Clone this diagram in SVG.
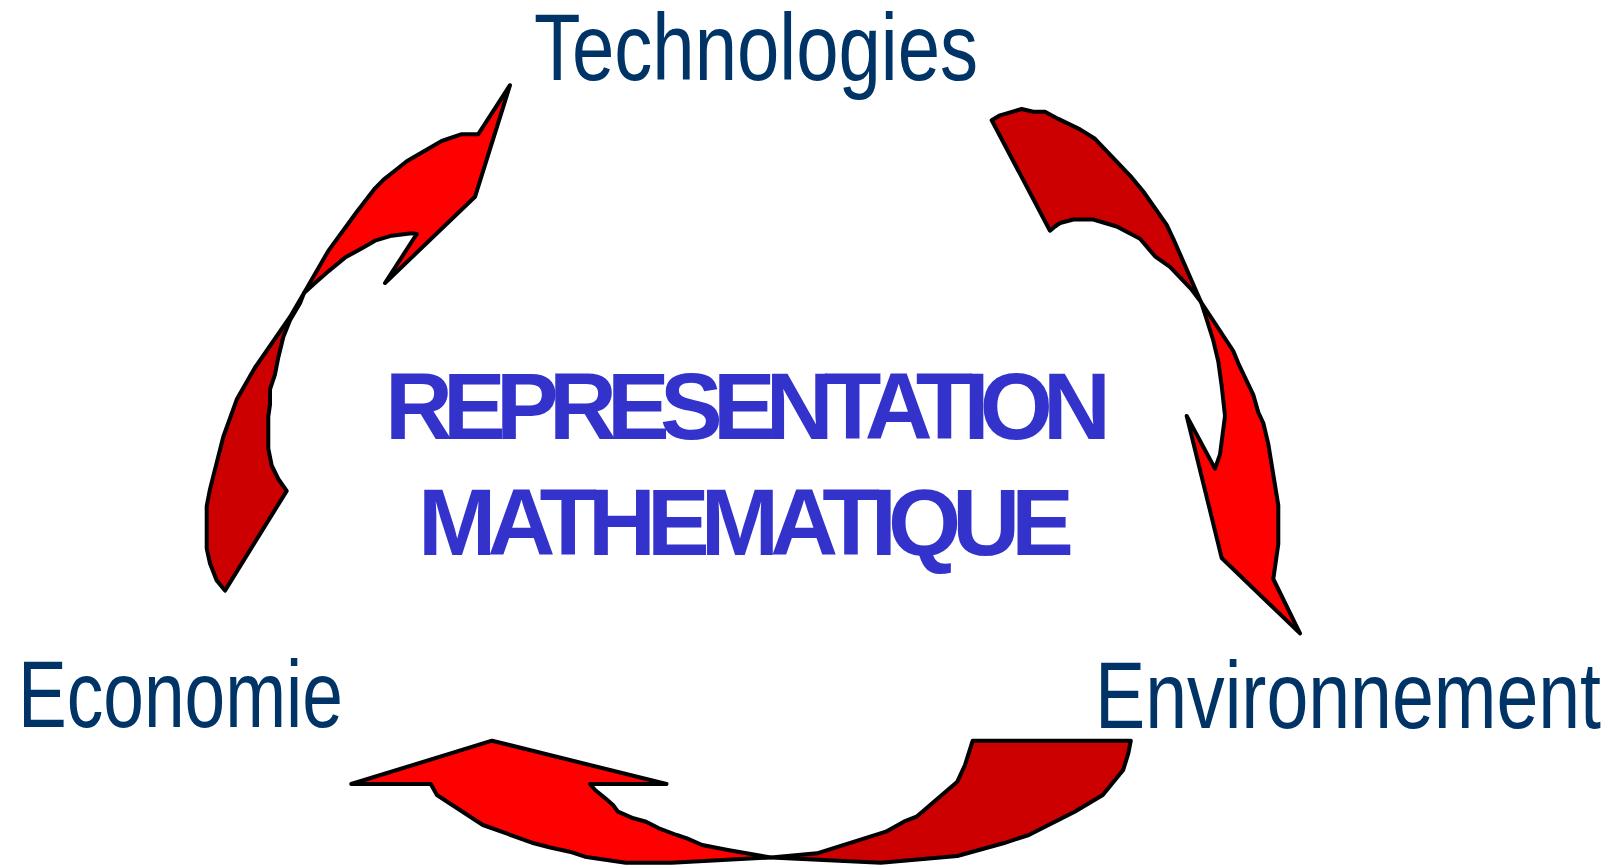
<svg xmlns="http://www.w3.org/2000/svg" width="1616" height="866" viewBox="0 0 1616 866">
<style>
.lbl{font-family:"Liberation Sans",Arial,sans-serif;fill:#003366;font-size:94px}
.ctr{font-family:"Liberation Sans",Arial,sans-serif;fill:#3333CC;font-size:94px;font-weight:bold}
.bright{fill:#FF0000;stroke:#000;stroke-width:4;stroke-linejoin:round}
.dark{fill:#CC0000;stroke:#000;stroke-width:4;stroke-linejoin:round}
</style>
<rect width="1616" height="866" fill="#fff"/>
<g id="connectors">
<g id="arrow-left">
<polygon class="dark" points="304,293 290,317 255,367.5 236.7,399.6 223.3,436.8 210,489.2 206.7,506.1 206.7,548.4 210,563.6 216.7,580.5 225,590.6 286.7,490.9 278.3,479 271.7,465.5 268.3,448.6 268.3,416.5 270,404.7 270,389.5 275,374.3 278.3,357.4 283.3,337.1 290,320.2 300,303.3"/>
<polygon class="bright" points="510,85.2 478.3,134.2 461.7,134.2 441.7,141 406.7,161.3 398.3,168 383.3,179.9 375,188.3 356.7,212 328.3,250.9 304,293 315,283 326.7,272.8 345,257.6 363.3,247.5 375,240.7 391.7,235.7 411.7,233.3 416.7,234 385,283 475,196.8"/>
</g>
<g id="arrow-right">
<polygon class="dark" points="991.7,120.3 1000,115.3 1021.7,109 1033.3,111.8 1045,111.8 1058.3,118.9 1080,129.4 1095,138.8 1111.7,156.4 1131.7,177.4 1143.3,191.5 1166.7,224.8 1173.3,238.8 1201,302 1191.7,289.7 1180,277.4 1170,266.9 1155,256.3 1140,238.8 1126.7,231.8 1116.7,226.5 1093.3,219.5 1073.3,219.5 1060,223 1055,226.5 1050,230.7"/>
<polygon class="bright" points="1201,302 1233.3,351 1238.3,363.3 1253.3,394.9 1258.3,412.4 1263.3,423 1268.3,444 1278.3,505.4 1278.3,544 1273.3,579 1300,633.4 1221.7,558 1186.7,415.9 1215,468.6 1220,454.5 1225,415.9 1221.7,386.1 1218.3,361.6 1213.3,340.5 1206.7,319.5"/>
</g>
<g id="arrow-bottom">
<polygon class="dark" points="771,857.5 817,853.3 885.9,831.7 903.8,821.7 916.5,816.7 957.3,781.7 965,765 972.7,740.7 1130.8,740.7 1128.3,753.3 1123.2,770 1102.8,795 1074.7,811.7 1028.8,835 1003.3,843.3 957.3,856 880.8,862.7"/>
<polygon class="bright" points="351.2,784 492,740.7 666.5,784 590,784 595.1,790 605.3,798.3 613,805 618,811.7 633.4,818.3 646.1,821.7 658.9,828.3 676.7,835 687,838.3 702.2,845 727.8,850 771,857.5 671.6,862.7 625.7,862.7 584.9,856.7 569.6,851.7 549.2,847.3 533.9,843.3 482.9,825 475.2,820 436.9,795 430.8,784"/>
</g>
</g>
<g id="node-technologies"><text class="lbl" x="534" y="80" textLength="444" lengthAdjust="spacingAndGlyphs">Technologies</text></g>
<g id="node-economie"><text class="lbl" x="18" y="727" textLength="325" lengthAdjust="spacingAndGlyphs">Economie</text></g>
<g id="node-environnement"><text class="lbl" x="1095" y="728" textLength="506" lengthAdjust="spacingAndGlyphs">Environnement</text></g>
<g id="node-center">
<text class="ctr" x="385" y="439" textLength="726" lengthAdjust="spacing">REPRESENTATION</text>
<text class="ctr" x="418" y="555" textLength="656" lengthAdjust="spacing">MATHEMATIQUE</text>
</g>
</svg>
